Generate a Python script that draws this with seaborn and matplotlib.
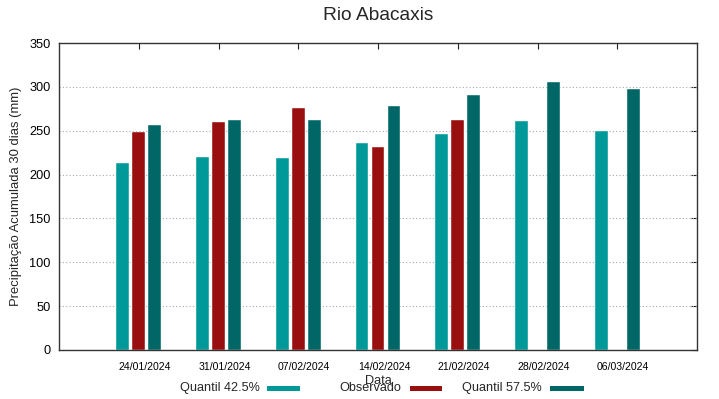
import matplotlib
matplotlib.use("Agg")
import matplotlib.pyplot as plt
import matplotlib.transforms as mtransforms
from matplotlib.patches import Rectangle
import numpy as np
import pandas as pd
import seaborn as sns

dates = ["24/01/2024", "31/01/2024", "07/02/2024", "14/02/2024",
         "21/02/2024", "28/02/2024", "06/03/2024"]
q425 = [213, 220, 219, 236, 246, 261, 250]
observado = [249, 260, 276, 231, 262, np.nan, np.nan]
q575 = [257, 262, 262, 278, 291, 306, 298]
series_names = ["Quantil 42.5%", "Observado", "Quantil 57.5%"]
colors = ["#009999", "#990f0f", "#006666"]
yticks = [0, 50, 100, 150, 200, 250, 300, 350]

rows = []
for name, vals in zip(series_names, [q425, observado, q575]):
    for d, v in zip(dates, vals):
        rows.append({"Data": d, "Serie": name, "Valor": v})
df = pd.DataFrame(rows)

sns.set_theme(style="white")
plt.rcParams["font.family"] = ["Liberation Sans", "DejaVu Sans"]

W, H = 719, 399
fig = plt.figure(figsize=(W / 100, H / 100), dpi=100)
ax = fig.add_axes([59 / W, 1 - 350 / H, (697 - 59) / W, (350 - 43) / H])

sns.barplot(data=df, x="Data", y="Valor", hue="Serie", order=dates,
            hue_order=series_names, palette=colors, width=0.6, gap=0.21,
            saturation=1, legend=False, ax=ax, zorder=2,
            edgecolor="white", linewidth=0.3)

ax.set_xlim(-1, 7)
ax.set_ylim(0, 350)
ax.set_yticks(yticks)
ax.set_yticklabels([str(t) for t in yticks], fontsize=9.2)
ax.tick_params(axis="y", direction="in", length=4, width=0.8, pad=6,
               right=True, colors="#222222", labelcolor="black")
ax.tick_params(axis="x", direction="in", length=4, width=0.8, pad=9,
               top=True, colors="#222222", labelcolor="black", labelsize=7.6)
for lbl in ax.get_xticklabels():
    lbl.set_transform(lbl.get_transform() +
                      mtransforms.ScaledTranslation(6 / 100, 0, fig.dpi_scale_trans))

for y in yticks[1:-1]:
    ax.axhline(y, color="#aaaaaa", lw=0.8, ls=(0, (1, 2)), zorder=1)

for s in ax.spines.values():
    s.set_color("#333333")
    s.set_linewidth(1.0)

ax.set_ylabel("Precipitação Acumulada 30 dias (mm)", fontsize=9.4)
ax.yaxis.label.set_va("center")
ax.yaxis.set_label_coords((16 - 59) / 638, 0.5)
ax.set_xlabel("Data", fontsize=9.2)
ax.xaxis.label.set_va("center")
ax.xaxis.set_label_coords(0.5, (350 - 381) / 307)

fig.text(378 / W, 1 - 16 / H, "Rio Abacaxis", ha="center", va="center",
         fontsize=13.8)

# legend (gnuplot style: text, then swatch)
leg_y = 388
text_right = [260, 401, 542]
sw = [(267, 300), (410, 442), (550, 584)]
for name, c, tr, (x0, x1) in zip(series_names, colors, text_right, sw):
    fig.text(tr / W, 1 - leg_y / H, name, ha="right", va="center", fontsize=9.1)
    fig.add_artist(Rectangle((x0 / W, 1 - (leg_y + 2.5) / H), (x1 - x0) / W, 5 / H,
                             transform=fig.transFigure, color=c, lw=0))

fig.savefig("out.png", dpi=100)
